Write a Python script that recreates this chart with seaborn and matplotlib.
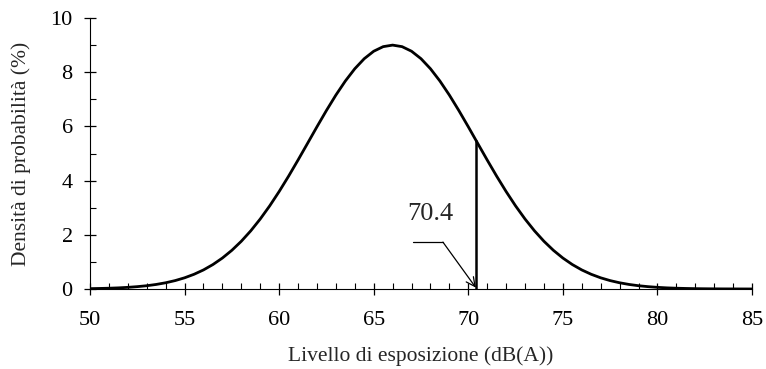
import matplotlib
matplotlib.use("Agg")
import matplotlib.pyplot as plt
import seaborn as sns
import pandas as pd
import numpy as np
from matplotlib.ticker import MultipleLocator

# Values (x step 0.5 dB)
level_db = [50 + 0.5 * i for i in range(71)]
density_pct = [
    0.013, 0.020, 0.029, 0.042, 0.061, 0.087, 0.121, 0.168, 0.230, 0.310,
    0.413, 0.543, 0.704, 0.903, 1.143, 1.428, 1.762, 2.147, 2.583, 3.067,
    3.597, 4.164, 4.760, 5.372, 5.987, 6.587, 7.156, 7.675, 8.128, 8.499,
    8.774, 8.943, 9.000, 8.943, 8.774, 8.499, 8.128, 7.675, 7.156, 6.587,
    5.987, 5.372, 4.760, 4.164, 3.597, 3.067, 2.583, 2.147, 1.762, 1.428,
    1.143, 0.903, 0.704, 0.543, 0.413, 0.310, 0.230, 0.168, 0.121, 0.087,
    0.061, 0.042, 0.029, 0.020, 0.013, 0.009, 0.006, 0.004, 0.003, 0.002,
    0.001,
]
threshold_x = 70.4
threshold_y = 5.5
threshold_label = "70.4"

df = pd.DataFrame({"x": level_db, "y": density_pct})

sns.set_theme(style="ticks")
plt.rcParams["font.family"] = ["Liberation Serif", "DejaVu Serif"]

fig = plt.figure(figsize=(7.66, 3.69), dpi=100)
ax = fig.add_axes([0.1175, 0.2168, 0.8642, 0.7344])

sns.lineplot(data=df, x="x", y="y", ax=ax, color="black", linewidth=2.0)
ax.plot([threshold_x, threshold_x], [0, threshold_y], color="black", linewidth=1.8,
        solid_capstyle="butt")

# leader line + arrow
ax.plot([67.08, 68.66], [1.73, 1.73], color="black", linewidth=0.9)
ax.annotate("", xy=(threshold_x, 0.05), xytext=(68.66, 1.73),
            arrowprops=dict(arrowstyle="->", color="black", lw=0.9,
                            shrinkA=0, shrinkB=0, mutation_scale=16))
ax.text(67.98, 2.75, threshold_label, ha="center", va="center", fontsize=19)

ax.set_xlim(50, 85)
ax.set_ylim(0, 10)
ax.xaxis.set_major_locator(MultipleLocator(5))
ax.xaxis.set_minor_locator(MultipleLocator(1))
ax.yaxis.set_major_locator(MultipleLocator(2))
ax.yaxis.set_minor_locator(MultipleLocator(1))
ax.tick_params(which="major", direction="inout", length=9, width=0.9, colors="black",
               labelsize=16)
ax.tick_params(axis="x", which="major", pad=11)
ax.tick_params(axis="y", which="major", pad=8)
ax.tick_params(which="minor", direction="in", length=4, width=0.8, colors="black")

sns.despine(ax=ax)
for s in ["left", "bottom"]:
    ax.spines[s].set_color("black")
    ax.spines[s].set_linewidth(0.8)

ax.set_xlabel("Livello di esposizione (dB(A))", fontsize=15.5, labelpad=12)
ax.set_ylabel("Densità di probabilità (%)", fontsize=15.5, labelpad=14)

fig.savefig("out.png", dpi=100)
